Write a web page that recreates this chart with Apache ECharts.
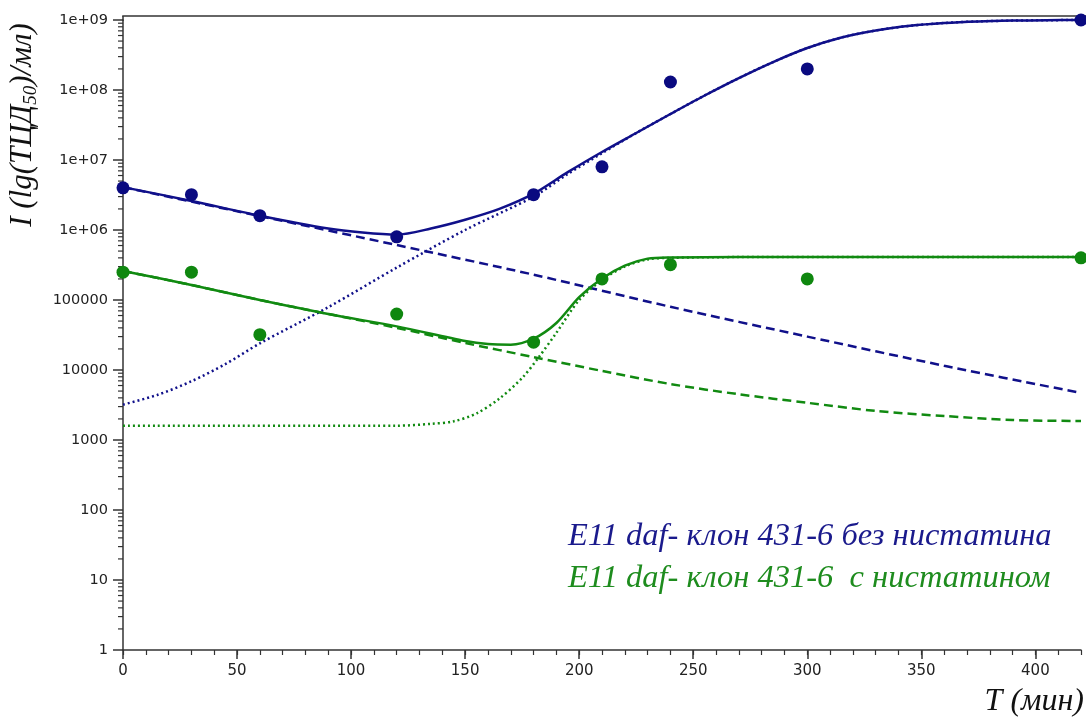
<!DOCTYPE html>
<html>
<head>
<meta charset="utf-8">
<script src="https://cdn.jsdelivr.net/npm/echarts@6/dist/echarts.min.js"></script>
<style>
  html, body { margin: 0; padding: 0; background: #ffffff; }
  #chart { width: 1086px; height: 722px; }
</style>
</head>
<body>
<div id="chart"></div>
<script>
// Series names (also shown in the legend)
const NAME_A = 'E11 daf- клон 431-6 без нистатина';
const NAME_B = 'E11 daf- клон 431-6  с нистатином';

// Measured titres, ТЦД50/мл
const sampleTimes = [0, 30, 60, 120, 180, 210, 240, 300, 420];
const measuredA = [4.0e6, 3.2e6, 1.6e6, 8.0e5, 3.2e6, 8.0e6, 1.3e8, 2.0e8, 1.0e9];
const measuredB = [2.5e5, 2.5e5, 3.2e4, 6.3e4, 2.5e4, 2.0e5, 3.2e5, 2.0e5, 4.0e5];

// Model curves, [time, titre]
// without nystatin: total, decay component, growth component
const fitA = [[0, 4.1e6], [30, 2.6e6], [60, 1.6e6], [90, 1.05e6], [105, 9.2e5], [120, 8.6e5], [135, 1.05e6],
  [150, 1.4e6], [165, 2.0e6], [180, 3.3e6], [195, 6.7e6], [210, 1.3e7], [225, 2.43e7], [240, 4.54e7],
  [255, 8.35e7], [270, 1.48e8], [285, 2.51e8], [300, 3.98e8], [315, 5.62e8], [330, 7.08e8], [345, 8.26e8],
  [360, 9.06e8], [375, 9.55e8], [390, 9.8e8], [405, 9.93e8], [420, 1.0e9]];
const declineA = [[0, 4.1e6], [60, 1.58e6], [120, 6.1e5], [180, 2.3e5], [240, 8.0e4], [300, 3.0e4],
  [360, 1.15e4], [420, 4.7e3]];
const growthA = [[0, 3.2e3], [15, 4.4e3], [30, 6.9e3], [45, 1.22e4], [60, 2.4e4], [90, 7.9e4], [120, 2.9e5],
  [150, 1.0e6], [180, 3.0e6], [195, 6.3e6], [210, 1.25e7], [225, 2.43e7], [240, 4.54e7], [255, 8.35e7],
  [270, 1.48e8], [285, 2.51e8], [300, 3.98e8], [315, 5.62e8], [330, 7.08e8], [345, 8.26e8], [360, 9.06e8],
  [375, 9.55e8], [390, 9.8e8], [405, 9.93e8], [420, 1.0e9]];

// with nystatin: total, decay component, growth component
const fitB = [[0, 2.6e5], [30, 1.64e5], [60, 1.0e5], [90, 6.3e4], [120, 4.2e4], [150, 2.6e4], [160, 2.35e4],
  [170, 2.3e4], [180, 2.8e4], [190, 4.7e4], [200, 1.1e5], [210, 2.03e5], [220, 3.1e5], [230, 3.9e5],
  [240, 4.06e5], [270, 4.1e5], [420, 4.1e5]];
const declineB = [[0, 2.6e5], [30, 1.64e5], [60, 1.0e5], [90, 6.3e4], [120, 4.0e4], [150, 2.43e4],
  [180, 1.53e4], [210, 9.7e3], [240, 6.3e3], [270, 4.5e3], [300, 3.4e3], [330, 2.6e3], [360, 2.2e3],
  [390, 1.93e3], [420, 1.87e3]];
const growthB = [[0, 1.6e3], [120, 1.6e3], [135, 1.7e3], [145, 1.85e3], [155, 2.4e3], [165, 3.9e3],
  [175, 7.7e3], [182, 1.48e4], [190, 3.4e4], [200, 1.0e5], [210, 1.93e5], [220, 3.0e5], [230, 3.8e5],
  [240, 4.0e5], [270, 4.1e5], [420, 4.1e5]];

// Axis ticks and labels
const xTickValues = [0, 50, 100, 150, 200, 250, 300, 350, 400];
const yTickLabels = ['1', '10', '100', '1000', '10000', '100000', '1e+06', '1e+07', '1e+08', '1e+09'];
const yMinorTickValues = [];
for (let k = 0; k < 9; k++) {
  for (let m = 2; m <= 9; m++) yMinorTickValues.push(m * Math.pow(10, k));
}

const COLOR_A = '#10108a';
const COLOR_B = '#118a11';
const POINT_A = '#0a0a80';
const POINT_B = '#0f870f';
const AXIS_COLOR = '#333333';
const TICK_FONT = 'DejaVu Sans';
const TITLE_FONT = 'Liberation Serif';

function curve(name, data, color, dash) {
  return {
    name: name, type: 'line', data: data, smooth: 0.3, showSymbol: false, clip: false,
    lineStyle: { color: color, width: 2.5, type: dash },
    itemStyle: { color: color }, z: 3, silent: true
  };
}
function points(name, ys, color) {
  return {
    name: name, type: 'scatter', symbol: 'circle', symbolSize: 13, clip: false, z: 5,
    itemStyle: { color: color, opacity: 1 },
    data: sampleTimes.map((t, i) => [t, ys[i]])
  };
}

const chart = echarts.init(document.getElementById('chart'), null, { renderer: 'canvas' });

chart.setOption({
  animation: false,
  backgroundColor: '#ffffff',
  grid: { left: 123, right: 5, top: 20, bottom: 72 },
  legend: {
    orient: 'vertical', left: 558, top: 515, itemGap: 9,
    icon: 'none', itemWidth: 0, itemHeight: 32, selectedMode: false,
    textStyle: { fontFamily: TITLE_FONT, fontStyle: 'italic', fontSize: 32.5, lineHeight: 33 },
    data: [
      { name: NAME_A, textStyle: { color: '#1a1a8c' } },
      { name: NAME_B, textStyle: { color: '#1e8c1e' } }
    ]
  },
  xAxis: [
    {
      type: 'value', min: 0, max: 420, position: 'bottom', offset: 0,
      axisLine: { show: true, onZero: false, lineStyle: { color: AXIS_COLOR, width: 1.5 } },
      axisTick: { show: true, length: 9, customValues: xTickValues, lineStyle: { color: AXIS_COLOR, width: 1.5 } },
      axisLabel: { customValues: xTickValues, margin: 14, color: '#222', fontFamily: TICK_FONT, fontSize: 15 },
      splitLine: { show: false }
    },
    {
      // minor ticks every 10 minutes
      type: 'value', min: 0, max: 420, interval: 10, position: 'bottom', offset: 0,
      axisLine: { show: false },
      axisTick: { show: true, length: 5, lineStyle: { color: AXIS_COLOR, width: 1.2 } },
      axisLabel: { show: false },
      splitLine: { show: false }
    }
  ],
  yAxis: {
    type: 'log', logBase: 10, min: 1, max: 1e9, splitNumber: 10,
    axisLine: { show: true, onZero: false, lineStyle: { color: AXIS_COLOR, width: 1.5 } },
    axisTick: { show: true, length: 10, lineStyle: { color: AXIS_COLOR, width: 1.5 } },
    axisLabel: {
      margin: 15, color: '#222', fontFamily: TICK_FONT, fontSize: 14.5,
      formatter: v => yTickLabels[Math.round(Math.log10(v))]
    },
    splitLine: { show: false }
  },
  graphic: [
    // upper frame edge
    { type: 'line', shape: { x1: 122.25, y1: 16, x2: 1086, y2: 16 }, style: { stroke: AXIS_COLOR, lineWidth: 1.5 }, silent: true },
    { type: 'line', shape: { x1: 123, y1: 16, x2: 123, y2: 21 }, style: { stroke: AXIS_COLOR, lineWidth: 1.5 }, silent: true },
    // axis titles
    {
      type: 'text', x: 23, y: 125, rotation: Math.PI / 2, silent: true,
      style: {
        text: '{a|I (lg(ТЦД}{s|50}{a|)/мл)}',
        align: 'center', verticalAlign: 'middle', fill: '#111',
        rich: {
          a: { fontFamily: TITLE_FONT, fontStyle: 'italic', fontSize: 31, lineHeight: 34, fill: '#111' },
          s: { fontFamily: TITLE_FONT, fontStyle: 'italic', fontSize: 19, lineHeight: 24, verticalAlign: 'bottom', fill: '#111' }
        }
      }
    },
    {
      type: 'text', x: 1084, y: 702, silent: true,
      style: {
        text: 'T (мин)', align: 'right', verticalAlign: 'middle', fill: '#111',
        fontFamily: TITLE_FONT, fontStyle: 'italic', fontSize: 32
      }
    }
  ],
  series: [
    curve(NAME_A, declineA, COLOR_A, [9, 5]),
    curve(NAME_A, growthA, COLOR_A, [2, 3]),
    curve(NAME_A, fitA, COLOR_A, 'solid'),
    curve(NAME_B, declineB, COLOR_B, [9, 5]),
    curve(NAME_B, growthB, COLOR_B, [2, 3]),
    curve(NAME_B, fitB, COLOR_B, 'solid'),
    points(NAME_A, measuredA, POINT_A),
    points(NAME_B, measuredB, POINT_B),
    {
      // log-axis minor ticks (2..9 within each decade)
      type: 'custom', silent: true, clip: false, z: 1,
      data: yMinorTickValues.map(v => [0, v]),
      renderItem: function (params, api) {
        const p = api.coord([api.value(0), api.value(1)]);
        return {
          type: 'line',
          shape: { x1: p[0] - 5, y1: p[1], x2: p[0], y2: p[1] },
          style: { stroke: AXIS_COLOR, lineWidth: 1.2 }
        };
      }
    }
  ]
});
</script>
</body>
</html>
